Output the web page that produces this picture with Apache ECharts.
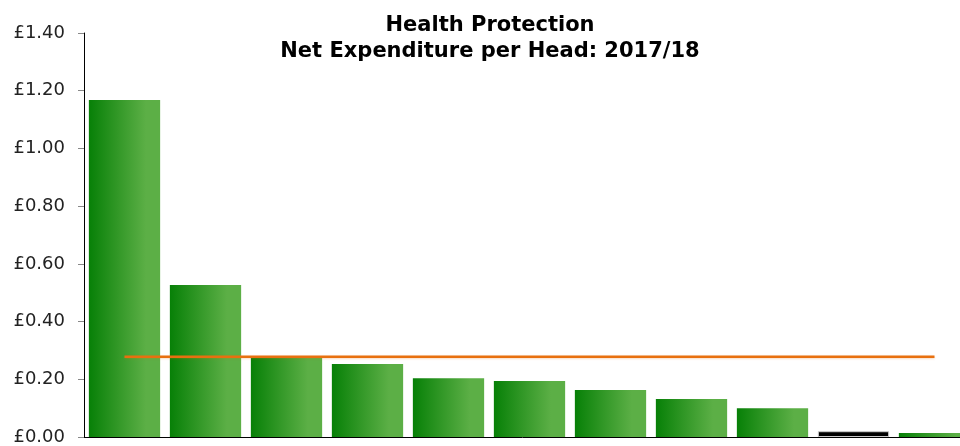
<!DOCTYPE html>
<html><head><meta charset="utf-8">
<script src="https://cdn.jsdelivr.net/npm/echarts@6/dist/echarts.min.js"></script>
<style>html,body{margin:0;padding:0;background:#fff}#c{width:960px;height:446px}</style>
</head><body><div id="c"></div>
<script>
var titleLines = ["Health Protection", "Net Expenditure per Head: 2017/18"];
var categories = ["A","B","C","D","E","F","G","H","I","J","K"];
var values = [1.168, 0.527, 0.274, 0.253, 0.204, 0.194, 0.163, 0.132, 0.100, 0.020, 0.014];
var highlightIndex = 9;
var averageValue = 0.278;
var yTicks = [0, 0.2, 0.4, 0.6, 0.8, 1.0, 1.2, 1.4];

var green = {type:'linear',x:0,y:0,x2:1,y2:0,colorStops:[{offset:0,color:'#078007'},{offset:0.8,color:'#5caf46'},{offset:1,color:'#5caf46'}]};
var barData = values.map(function(v,i){
  if(i===highlightIndex) return {value:v,itemStyle:{color:'#000',borderColor:'#c8c8c8',borderWidth:1}};
  return {value:v,itemStyle:{color:green}};
});
var chart = echarts.init(document.getElementById('c'));
chart.setOption({
  animation:false,
  title:{text:titleLines.join('\n'),left:485,top:8,textAlign:'center',
    textStyle:{fontFamily:'DejaVu Sans',fontWeight:'bold',fontSize:21,color:'#000',lineHeight:26}},
  grid:{left:84,top:33,right:-15,height:404,containLabel:false,outerBoundsMode:'none'},
  xAxis:{type:'category',data:categories,boundaryGap:true,
    axisLine:{lineStyle:{color:'#000',width:1}},axisTick:{show:false},axisLabel:{show:false}},
  yAxis:{type:'value',min:yTicks[0],max:yTicks[yTicks.length-1],interval:0.2,
    axisLine:{show:true,lineStyle:{color:'#000'}},
    axisTick:{show:true,length:6,lineStyle:{color:'#888'}},
    splitLine:{show:false},
    axisLabel:{fontFamily:'DejaVu Sans',fontSize:18,color:'#222',margin:19,
      formatter:function(v){return '£'+v.toFixed(2);}}},
  series:[
    {type:'bar',data:barData,barCategoryGap:'12%'},
    {type:'line',data:categories.map(function(){return averageValue;}),symbol:'none',
      lineStyle:{color:'#e8700f',width:2.5,shadowColor:'rgba(232,112,15,0.25)',shadowBlur:2,shadowOffsetY:1},z:5}
  ]
});
</script></body></html>
